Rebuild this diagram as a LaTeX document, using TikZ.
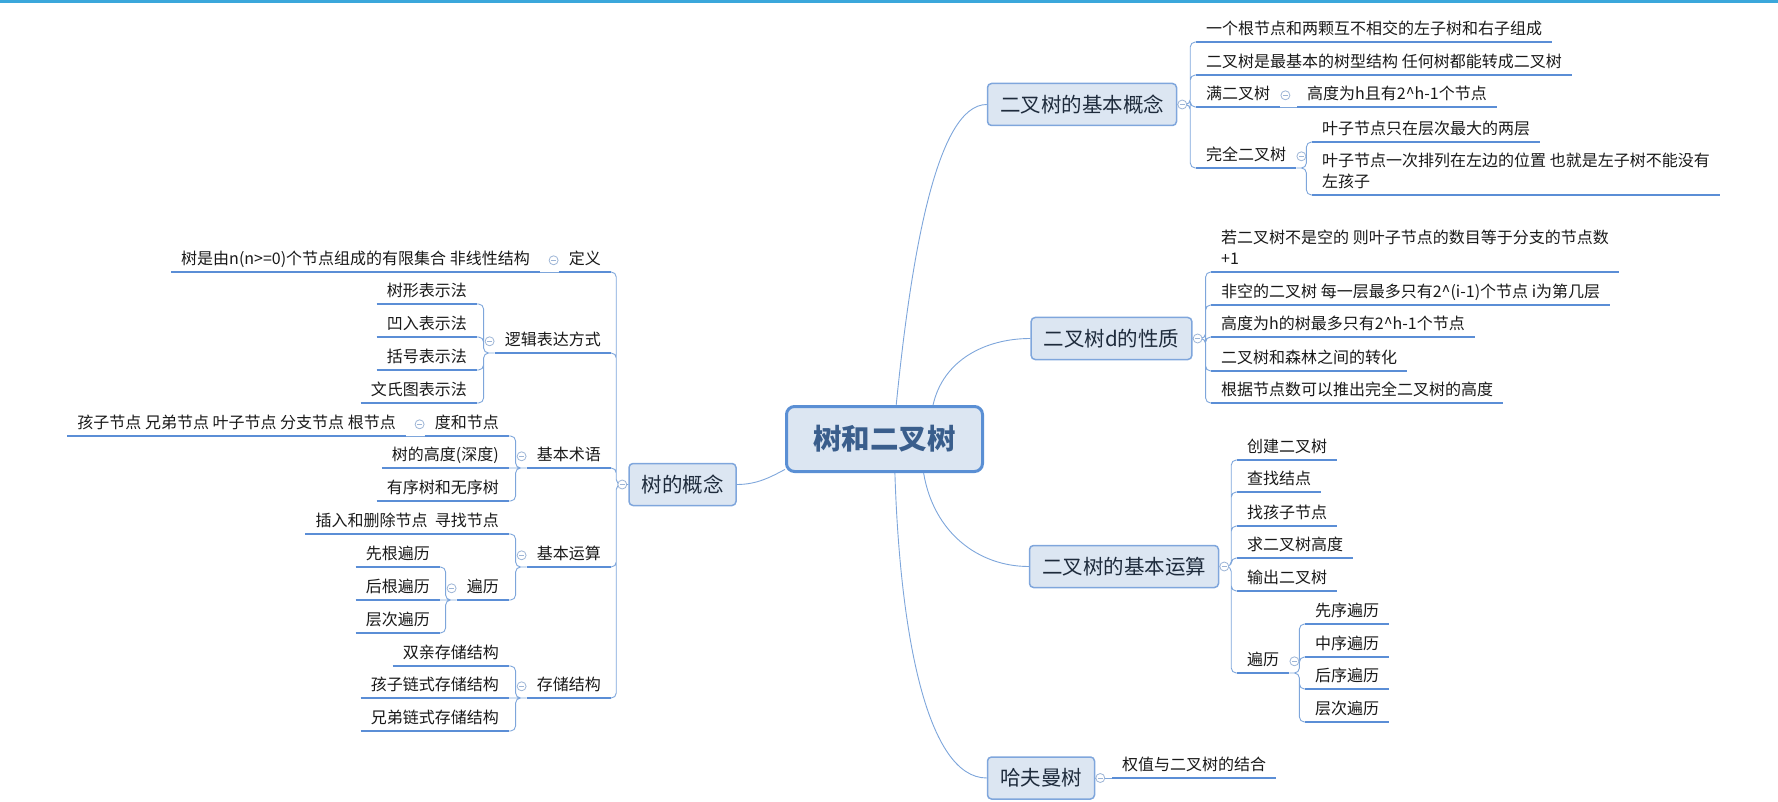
\documentclass[tikz,border=0pt]{standalone}
\usepackage{fontspec}
\setmainfont{Noto Sans CJK SC}
\definecolor{topbar}{HTML}{3BA7DB}
\definecolor{nodefill}{HTML}{DCE6F2}
\definecolor{rootline}{HTML}{5A8FD4}
\definecolor{roottext}{HTML}{3A5E8C}
\definecolor{topicline}{HTML}{7FA6DC}
\definecolor{topictext}{HTML}{1E2B3C}
\definecolor{ulblue}{HTML}{5B8ED6}
\definecolor{linkblue}{HTML}{7EA6DB}
\definecolor{togline}{HTML}{9DB5D6}
\begin{document}
\begin{tikzpicture}[x=1pt,y=-1pt,
  root/.style={draw=rootline, line width=3pt, rounded corners=8pt, fill=nodefill, text=roottext,
    font=\fontsize{28.5}{32}\selectfont\bfseries, minimum width=196pt, minimum height=65pt},
  topic/.style={draw=topicline, line width=1.5pt, rounded corners=4pt, fill=nodefill, text=topictext,
    font=\fontsize{20.5}{24}\selectfont, inner xsep=12.5pt, minimum height=42pt},
  uline/.style={draw=ulblue, line width=2.5pt},
  leaf/.style={font=\fontsize{16}{21}\selectfont, text=black!90, inner xsep=10pt, inner ysep=1pt,
    execute at begin node=\strut, execute at end node=\strut,
    append after command={(\tikzlastnode.south west) edge[uline] (\tikzlastnode.south east)}},
  link/.style={draw=linkblue, line width=0.9pt, rounded corners=5pt},
  fork/.style={to path={-- ++(#1,0) |- (\tikztotarget)}},
  tog/.style={circle, draw=togline, fill=white, line width=0.8pt, minimum size=9pt, inner sep=0pt,
    path picture={\draw[togline, line width=0.8pt] ([xshift=-2.3pt]path picture bounding box.center)
      -- ([xshift=2.3pt]path picture bounding box.center);}}]
\useasboundingbox (0,0) rectangle (1778,802);
\fill[topbar] (0,0) rectangle (1778,3.5);

\node[root] (root) at (884.5,439) {树和二叉树};
\node[topic] (bjgn) at (1082,104.5) {二叉树的基本概念};
\node[topic] (xz) at (1111.5,338.5) {二叉树d的性质};
\node[topic] (ys) at (1124,566.5) {二叉树的基本运算};
\node[topic] (hfm) at (1041,778) {哈夫曼树};
\node[topic] (gn) at (682.5,484.5) {树的概念};

\draw[link] (root.71) .. controls +(15,-150) and +(-50,0) .. (bjgn.west);
\draw[link] (root.35) .. controls +(10,-45) and +(-45,0) .. (xz.west);
\draw[link] (root.-41) .. controls +(10,60) and +(-50,0) .. (ys.west);
\draw[link] (root.-73) .. controls +(5,160) and +(-60,0) .. (hfm.west);
\draw[link] (root.197) .. controls +(-15,8) and +(20,0) .. (gn.east);

% right side
\node[leaf, anchor=south west] (gn1) at (1196,42) {一个根节点和两颗互不相交的左子树和右子组成};
\node[leaf, anchor=south west] (gn2) at (1196,75) {二叉树是最基本的树型结构 任何树都能转成二叉树};
\node[leaf, anchor=south west] (mec) at (1196,107) {满二叉树};
\node[leaf, anchor=south west] (mec1) at (1297,107) {高度为h且有2\textasciicircum{}h-1个节点};
\node[leaf, anchor=south west] (wq) at (1196,168) {完全二叉树};
\node[leaf, anchor=south west] (wq1) at (1312,142) {叶子节点只在层次最大的两层};
\node[leaf, anchor=south west, align=left] (wq2) at (1312,195) {叶子节点一次排列在左边的位置 也就是左子树不能没有\\左孩子};

\node[leaf, anchor=south west, align=left] (xz1) at (1211,272) {若二叉树不是空的 则叶子节点的数目等于分支的节点数\\+1};
\node[leaf, anchor=south west] (xz2) at (1211,305) {非空的二叉树 每一层最多只有2\textasciicircum{}(i-1)个节点 i为第几层};
\node[leaf, anchor=south west] (xz3) at (1211,337) {高度为h的树最多只有2\textasciicircum{}h-1个节点};
\node[leaf, anchor=south west] (xz4) at (1211,371) {二叉树和森林之间的转化};
\node[leaf, anchor=south west] (xz5) at (1211,403) {根据节点数可以推出完全二叉树的高度};

\node[leaf, anchor=south west] (ys1) at (1237,460) {创建二叉树};
\node[leaf, anchor=south west] (ys2) at (1237,492) {查找结点};
\node[leaf, anchor=south west] (ys3) at (1237,526) {找孩子节点};
\node[leaf, anchor=south west] (ys4) at (1237,558) {求二叉树高度};
\node[leaf, anchor=south west] (ys5) at (1237,591) {输出二叉树};
\node[leaf, anchor=south west] (bl) at (1237,673) {遍历};
\node[leaf, anchor=south west] (bl1) at (1305,624) {先序遍历};
\node[leaf, anchor=south west] (bl2) at (1305,657) {中序遍历};
\node[leaf, anchor=south west] (bl3) at (1305,689) {后序遍历};
\node[leaf, anchor=south west] (bl4) at (1305,722) {层次遍历};

\node[leaf, anchor=south west] (hf1) at (1112,778) {权值与二叉树的结合};

\draw[link] (bjgn.east) to[fork=13] (gn1.south west) (bjgn.east) to[fork=13] (gn2.south west)
  (bjgn.east) to[fork=13] (mec.south west) (bjgn.east) to[fork=13] (wq.south west);
\draw[link] (mec.south east) -- (mec1.south west);
\draw[link] (wq.south east) to[fork=10] (wq1.south west) (wq.south east) to[fork=10] (wq2.south west);
\draw[link] (xz.east) to[fork=13] (xz1.south west) (xz.east) to[fork=13] (xz2.south west)
  (xz.east) to[fork=13] (xz3.south west) (xz.east) to[fork=13] (xz4.south west)
  (xz.east) to[fork=13] (xz5.south west);
\draw[link] (ys.east) to[fork=12] (ys1.south west) (ys.east) to[fork=12] (ys2.south west)
  (ys.east) to[fork=12] (ys3.south west) (ys.east) to[fork=12] (ys4.south west)
  (ys.east) to[fork=12] (ys5.south west) (ys.east) to[fork=12] (bl.south west);
\draw[link] (bl.south east) to[fork=10] (bl1.south west) (bl.south east) to[fork=10] (bl2.south west)
  (bl.south east) to[fork=10] (bl3.south west) (bl.south east) to[fork=10] (bl4.south west);
\draw[link] (hfm.east) -- (hf1.south west);

% left side
\node[leaf, anchor=south east] (dy) at (611,272) {定义};
\node[leaf, anchor=south east] (dy1) at (540,272) {树是由n(n>=0)个节点组成的有限集合 非线性结构};
\node[leaf, anchor=south east] (lj) at (611,353) {逻辑表达方式};
\node[leaf, anchor=south east] (lj1) at (477,304) {树形表示法};
\node[leaf, anchor=south east] (lj2) at (477,337) {凹入表示法};
\node[leaf, anchor=south east] (lj3) at (477,370) {括号表示法};
\node[leaf, anchor=south east] (lj4) at (477,403) {文氏图表示法};
\node[leaf, anchor=south east] (sy) at (611,468) {基本术语};
\node[leaf, anchor=south east] (sy1) at (509,436) {度和节点};
\node[leaf, anchor=south east] (sy11) at (406,436) {孩子节点 兄弟节点 叶子节点 分支节点 根节点};
\node[leaf, anchor=south east] (sy2) at (509,468) {树的高度(深度)};
\node[leaf, anchor=south east] (sy3) at (509,501) {有序树和无序树};
\node[leaf, anchor=south east] (yx) at (611,567) {基本运算};
\node[leaf, anchor=south east] (yx1) at (509,534) {插入和删除节点~~寻找节点};
\node[leaf, anchor=south east] (yx2) at (509,600) {遍历};
\node[leaf, anchor=south east] (yx21) at (440,567) {先根遍历};
\node[leaf, anchor=south east] (yx22) at (440,600) {后根遍历};
\node[leaf, anchor=south east] (yx23) at (440,633) {层次遍历};
\node[leaf, anchor=south east] (cc) at (611,698) {存储结构};
\node[leaf, anchor=south east] (cc1) at (509,666) {双亲存储结构};
\node[leaf, anchor=south east] (cc2) at (509,698) {孩子链式存储结构};
\node[leaf, anchor=south east] (cc3) at (509,731) {兄弟链式存储结构};

\draw[link] (gn.west) to[fork=-12] (dy.south east) (gn.west) to[fork=-12] (lj.south east)
  (gn.west) to[fork=-12] (sy.south east) (gn.west) to[fork=-12] (yx.south east)
  (gn.west) to[fork=-12] (cc.south east);
\draw[link] (dy.south west) -- (dy1.south east);
\draw[link] (lj.south west) to[fork=-11] (lj1.south east) (lj.south west) to[fork=-11] (lj2.south east)
  (lj.south west) to[fork=-11] (lj3.south east) (lj.south west) to[fork=-11] (lj4.south east);
\draw[link] (sy.south west) to[fork=-11] (sy1.south east) (sy.south west) -- (sy2.south east)
  (sy.south west) to[fork=-11] (sy3.south east);
\draw[link] (sy1.south west) -- (sy11.south east);
\draw[link] (yx.south west) to[fork=-11] (yx1.south east) (yx.south west) to[fork=-11] (yx2.south east);
\draw[link] (yx2.south west) to[fork=-11] (yx21.south east) (yx2.south west) -- (yx22.south east)
  (yx2.south west) to[fork=-11] (yx23.south east);
\draw[link] (cc.south west) to[fork=-11] (cc1.south east) (cc.south west) -- (cc2.south east)
  (cc.south west) to[fork=-11] (cc3.south east);

% collapse marks
\node[tog] (t1) at ([xshift=5pt]bjgn.east) {};
\node[tog] (t2) at ([xshift=5pt]xz.east) {};
\node[tog] (t3) at ([xshift=5pt]ys.east) {};
\node[tog] (t4) at ([xshift=5pt]hfm.east) {};
\node[tog] (t5) at ([xshift=5pt]mec.east) {};
\node[tog] (t6) at ([xshift=5pt]wq.east) {};
\node[tog] (t7) at ([xshift=5pt]bl.east) {};
\node[tog] (t8) at ([xshift=-6pt]gn.west) {};
\node[tog] (t9) at ([xshift=-5pt]dy.west) {};
\node[tog] (t10) at ([xshift=-5pt]lj.west) {};
\node[tog] (t11) at ([xshift=-5pt]sy.west) {};
\node[tog] (t12) at ([xshift=-5pt]sy1.west) {};
\node[tog] (t13) at ([xshift=-5pt]yx.west) {};
\node[tog] (t14) at ([xshift=-5pt]yx2.west) {};
\node[tog] (t15) at ([xshift=-5pt]cc.west) {};
\end{tikzpicture}
\end{document}
